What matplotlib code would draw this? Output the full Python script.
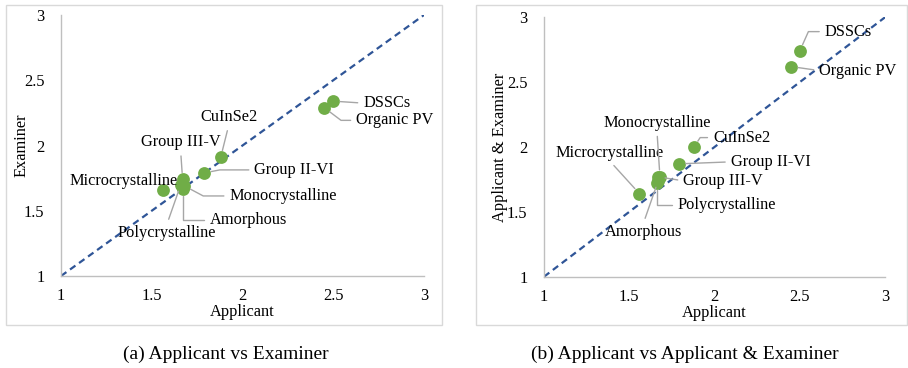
import matplotlib
matplotlib.use("Agg")
import matplotlib.pyplot as plt
from matplotlib.patches import Rectangle

plt.rcParams['font.family'] = ['Liberation Serif', 'DejaVu Serif']

# ---- data ----
techs = ["Microcrystalline", "Group III-V", "Amorphous", "Monocrystalline",
         "Polycrystalline", "Group II-VI", "CuInSe2", "Organic PV", "DSSCs"]
applicant = [1.56, 1.67, 1.67, 1.68, 1.66, 1.79, 1.88, 2.45, 2.50]
examiner = [1.66, 1.74, 1.67, 1.69, 1.70, 1.79, 1.91, 2.29, 2.34]
app_exam = [1.64, 1.77, 1.74, 1.77, 1.72, 1.87, 2.00, 2.62, 2.74]
ticks = [1, 1.5, 2, 2.5, 3]
tick_labels = ["1", "1.5", "2", "2.5", "3"]

# ---- label layout: offset in px (screen, y down), ha, relpos, angleB ----
L = 'left'; C = 'center'
layout_a = {
    "DSSCs": (30, 2, L, (0, 0.5), None),
    "Organic PV": (32, 12.7, L, (0, 0.5), 143),
    "CuInSe2": (8, -40, C, (0.5, 0), None),
    "Group III-V": (-2, -37, C, (0.5, 0), None),
    "Group II-VI": (50, -3, L, (0, 0.5), 11),
    "Microcrystalline": (-39, -9, C, None, None),
    "Monocrystalline": (45, 10, L, (0, 0.5), 152),
    "Amorphous": (27, 31, L, (0, 0.5), 90),
    "Polycrystalline": (-14, 48, C, (0.5, 1), None),
}
layout_b = {
    "DSSCs": (25, -19.4, L, (0, 0.5), 66),
    "Organic PV": (28, 4, L, (0, 0.5), None),
    "CuInSe2": (19, -9.4, L, (0, 0.5), 57),
    "Group II-VI": (52, -2, L, (0, 0.5), None),
    "Group III-V": (25, 4, L, (0, 0.5), None),
    "Polycrystalline": (21, 22, L, (0, 0.5), 90),
    "Monocrystalline": (-3, -54, C, (0.5, 0), None),
    "Microcrystalline": (-30, -41, C, (0.5, 0), None),
    "Amorphous": (-15, 51, C, (0.5, 1), None),
}

fig = plt.figure(figsize=(9.08, 3.68), dpi=100)
W, H = 908, 368

def fr(x0, y0, x1, y1):
    return [x0 / W, 1 - y1 / H, (x1 - x0) / W, (y1 - y0) / H]

# panel frames
for (x0, y0, x1, y1) in [(6, 5, 442, 325), (476, 5, 907, 325)]:
    fig.patches.append(Rectangle((x0 / W, 1 - y1 / H), (x1 - x0) / W, (y1 - y0) / H,
                                 transform=fig.transFigure, fill=False,
                                 edgecolor='#d9d9d9', lw=1.0))

FS = 11.8

def panel(rect, yvals, ylabel, layout, ylpad):
    ax = fig.add_axes(rect)
    ax.set_xlim(1, 3)
    ax.set_ylim(1, 3)
    for s in ['top', 'right']:
        ax.spines[s].set_visible(False)
    for s in ['left', 'bottom']:
        ax.spines[s].set_color('#bfbfbf')
        ax.spines[s].set_linewidth(1.0)
    ax.set_xticks(ticks, tick_labels)
    ax.set_yticks(ticks, tick_labels)
    ax.tick_params(length=0, labelsize=FS)
    ax.tick_params(axis='y', pad=12)
    ax.tick_params(axis='x', pad=9)
    ax.plot(ticks, ticks, ls=(0, (3, 2)), color='#2f5597', lw=1.6, zorder=2)
    ax.scatter(applicant, yvals, s=85, color='#70ad47', zorder=3, linewidths=0)
    ax.set_xlabel("Applicant", fontsize=FS, labelpad=0)
    ax.set_ylabel(ylabel, fontsize=FS, labelpad=ylpad)
    for name, x, y in zip(techs, applicant, yvals):
        dx, dy, ha, relpos, angB = layout[name]
        kw = dict(xy=(x, y), xytext=(dx * 0.72, -dy * 0.72), textcoords='offset points',
                  ha=ha, va='center', fontsize=FS, zorder=4)
        if relpos is not None:
            cs = 'arc3' if angB is None else f'angle,angleA=0,angleB={angB},rad=0'
            kw['arrowprops'] = dict(arrowstyle='-', color='#a6a6a6', lw=1.0,
                                    shrinkA=2, shrinkB=5, relpos=relpos,
                                    connectionstyle=cs)
        ax.annotate(name, **kw)
    return ax

panel(fr(61, 15, 424, 276), examiner, "Examiner", layout_a, -4)
panel(fr(544, 17.3, 885, 276.7), app_exam, "Applicant & Examiner", layout_b, -1)

fig.text(226 / W, 1 - 354 / H, "(a) Applicant vs Examiner", ha='center', va='center', fontsize=14)
fig.text(685 / W, 1 - 354 / H, "(b) Applicant vs Applicant & Examiner", ha='center', va='center', fontsize=14)

fig.savefig("out.png", dpi=100)
